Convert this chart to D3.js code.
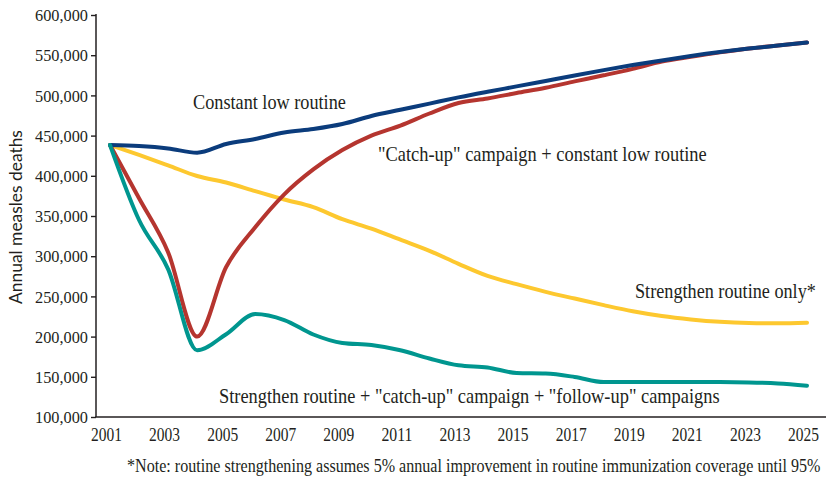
<!DOCTYPE html>
<html>
<head>
<meta charset="utf-8">
<script src="https://cdn.jsdelivr.net/npm/d3@7"></script>
<style>
  html, body { margin: 0; padding: 0; background: #ffffff; }
  svg { display: block; }
</style>
</head>
<body>
<svg id="chart" width="826" height="479"></svg>
<script>
// Projected annual measles deaths under four vaccination strategies, 2001-2025
const years = d3.range(2001, 2026);
const tickYears = d3.range(2001, 2026, 2);
const yTickValues = [100000, 150000, 200000, 250000, 300000, 350000, 400000, 450000, 500000, 550000, 600000];

// Constant low routine
const constantLow = [
  438300, 437000, 434000, 428700, 439600, 445800, 453900, 458200, 464400, 474400,
  482100, 489800, 497500, 504500, 511200, 518000, 524800, 531400, 537700, 543400,
  549000, 554000, 558300, 562000, 565800
];
// "Catch-up" campaign + constant low routine
const catchUp = [
  438300, 372000, 305000, 200000, 286600, 336000, 377000, 408000, 432000, 450000,
  462500, 477500, 490500, 496200, 503000, 509600, 517400, 525000, 533000, 542000,
  548000, 553500, 558300, 562000, 565800
];
// Strengthen routine only
const strengthenOnly = [
  438300, 426000, 413000, 399700, 391600, 381000, 370500, 361000, 346000, 334300,
  320500, 306700, 290500, 275500, 265200, 255700, 247300, 239100, 231500, 225600,
  221400, 218400, 216900, 216500, 217300
];
// Strengthen routine + "catch-up" campaign + "follow-up" campaigns
const strengthenAll = [
  438300, 345000, 284000, 183000, 203000, 228000, 220600, 202600, 192000, 189500,
  183000, 172800, 164300, 161600, 154700, 154000, 149800, 143500, 143500, 143500,
  143500, 143500, 143000, 141700, 139000
];

const seriesLabels = [
  "Constant low routine",
  "\"Catch-up\" campaign + constant low routine",
  "Strengthen routine only*",
  "Strengthen routine + \"catch-up\" campaign + \"follow-up\" campaigns"
];
const noteText = "*Note: routine strengthening assumes 5% annual improvement in routine immunization coverage until 95%";
const yTitle = "Annual measles deaths";

const ink = "#231f20";
const serif = "'Liberation Serif', 'Times New Roman', serif";
const sans = "Lato, 'Open Sans', sans-serif";

const svg = d3.select("#chart");

const x = d3.scaleLinear().domain([2001, 2025]).range([110, 807]);
const y = d3.scaleLinear().domain([100000, 600000]).range([417, 15]);

// Squeeze a text horizontally so that it spans the given width
function condense(sel, width, place) {
  sel.each(function (d) {
    const natural = this.getComputedTextLength();
    const w = typeof width === "function" ? width(d) : width;
    const base = typeof place === "function" ? place(d) : place;
    d3.select(this).attr("transform", `${base} scale(${w / natural},1)`);
  });
}

// Y axis
const yAxis = svg.append("g")
  .attr("transform", "translate(96,0)")
  .call(d3.axisLeft(y).tickValues(yTickValues).tickSize(5).tickPadding(3).tickFormat(d3.format(",")));
yAxis.select(".domain").remove();
yAxis.selectAll(".tick line").attr("stroke", ink).attr("stroke-width", 1.4);
yAxis.selectAll(".tick text")
  .attr("fill", ink)
  .style("font-family", serif)
  .style("font-size", "17.5px")
  .attr("x", 0)
  .call(condense, 53, "translate(-8,0)");

svg.append("line")
  .attr("x1", 96).attr("x2", 96)
  .attr("y1", y(600000) - 1).attr("y2", y(100000))
  .attr("stroke", ink).attr("stroke-width", 1.5);

// X axis
svg.append("line")
  .attr("x1", 95.25).attr("x2", 826)
  .attr("y1", y(100000)).attr("y2", y(100000))
  .attr("stroke", ink).attr("stroke-width", 1.5);

const xAxis = svg.append("g")
  .attr("transform", `translate(0,${y(100000)})`)
  .call(d3.axisBottom(x).tickValues(tickYears).tickSize(0).tickFormat(d3.format("d")));
xAxis.select(".domain").remove();
xAxis.selectAll(".tick text")
  .attr("fill", ink)
  .attr("x", 0)
  .attr("y", 0)
  .attr("dy", 0)
  .style("font-family", serif)
  .style("font-size", "18.5px")
  .call(condense, 31, "translate(-4,24)");

// Y axis title
svg.append("text")
  .attr("text-anchor", "middle")
  .attr("fill", ink)
  .style("font-family", sans)
  .style("font-size", "16.5px")
  .text(yTitle)
  .call(condense, 174, `translate(22,${(y(600000) + y(100000)) / 2 + 1}) rotate(-90)`);

// Series lines
const line = d3.line()
  .x((d, i) => x(years[i]))
  .y(d => y(d))
  .curve(d3.curveMonotoneX);

const series = [
  { values: strengthenOnly, color: "#fdc82f" },
  { values: catchUp, color: "#b5352f" },
  { values: constantLow, color: "#0b3c7c" },
  { values: strengthenAll, color: "#00968f" }
];

svg.append("g").selectAll("path")
  .data(series)
  .join("path")
  .attr("d", d => line(d.values))
  .attr("fill", "none")
  .attr("stroke", d => d.color)
  .attr("stroke-width", 4)
  .attr("stroke-linejoin", "round")
  .attr("stroke-linecap", "round");

// Series annotations
const annotations = [
  { text: seriesLabels[0], x: 193, y: 109, w: 153 },
  { text: seriesLabels[1], x: 378, y: 161, w: 329 },
  { text: seriesLabels[2], x: 635, y: 298, w: 181 },
  { text: seriesLabels[3], x: 219, y: 403, w: 501 }
];
svg.append("g").selectAll("text")
  .data(annotations)
  .join("text")
  .attr("fill", ink)
  .style("font-family", serif)
  .style("font-size", "20px")
  .text(d => d.text)
  .call(condense, d => d.w, d => `translate(${d.x},${d.y})`);

// Footnote
svg.append("text")
  .attr("fill", ink)
  .style("font-family", serif)
  .style("font-size", "18px")
  .text(noteText)
  .call(condense, 694, "translate(127,472)");
</script>
</body>
</html>
